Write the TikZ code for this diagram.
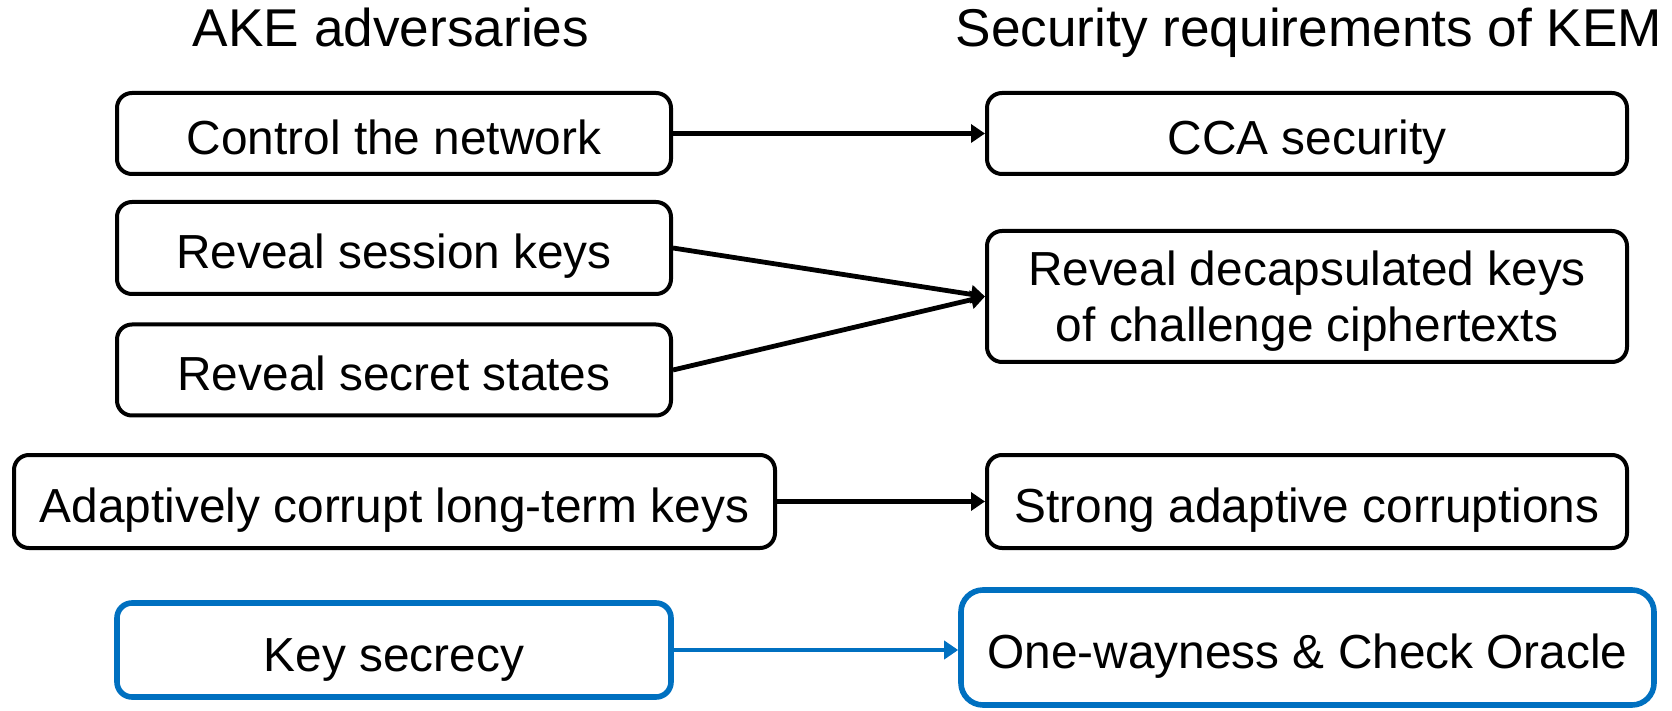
\documentclass[tikz,border=0pt]{standalone}
\usepackage{fontspec}
\setmainfont{Liberation Sans}
\usetikzlibrary{arrows.meta}
\definecolor{kblue}{HTML}{0070C0}
\begin{document}
\begin{tikzpicture}[x=0.5pt,y=-0.5pt,
  box/.style={draw=black, line width=2pt, rounded corners=7.5pt, inner sep=0pt,
    font=\fontsize{23.9pt}{26.5pt}\selectfont, align=center},
  one/.style={text height=21pt, text depth=0pt},
  bbox/.style={box, draw=kblue, line width=2.8pt},
  ttl/.style={font=\fontsize{26.6pt}{30pt}\selectfont, anchor=base, inner sep=0pt},
  conn/.style={line width=2.4pt, -{Triangle[length=7pt,width=9pt]}},
  bconn/.style={conn, draw=kblue, color=kblue}]
\useasboundingbox (0,0) rectangle (1672,711);
\node[ttl] (t1) at (391,47) {AKE adversaries};
\node[ttl] (t2) at (1309,47) {Security requirements of KEM};

\node[box, one, minimum width=277pt, minimum height=40.5pt] (ctrl) at (394,133.5) {Control the network};
\node[box, one, minimum width=320pt, minimum height=40.5pt] (cca) at (1307,133.5) {CCA security};
\node[box, one, minimum width=277pt, minimum height=46pt] (sess) at (394,248) {Reveal session keys};
\node[box, one, minimum width=277pt, minimum height=45.5pt] (secr) at (394,370) {Reveal secret states};
\node[box, minimum width=320pt, minimum height=65.5pt] (decap) at (1307,296.5) {};
\node[inner sep=0pt, align=center, font=\fontsize{23.9pt}{28pt}\selectfont] (decapt) at (1307,301) {Reveal decapsulated keys\\of challenge ciphertexts};
\node[box, one, minimum width=380.5pt, minimum height=46.5pt] (adapt) at (394.5,501.5) {Adaptively corrupt long-term keys};
\node[box, one, minimum width=320pt, minimum height=46.5pt] (strong) at (1307,501.5) {Strong adaptive corruptions};
\node[bbox, one, minimum width=277pt, minimum height=47pt] (keysec) at (394,650) {Key secrecy};
\node[bbox, one, rounded corners=11pt, minimum width=346.5pt, minimum height=57.5pt] (oneway) at (1307.5,647.5) {One-wayness \& Check Oracle};

\draw[conn] (ctrl.east) -- (cca.west);
\coordinate (dj) at (decap.west);
\draw[conn] (sess.east) -- (dj);
\draw[conn] (secr.east) -- (dj);
\draw[conn] (adapt.east) -- (strong.west);
\draw[bconn] (keysec.east) -- (keysec.east -| oneway.west);
\end{tikzpicture}
\end{document}
